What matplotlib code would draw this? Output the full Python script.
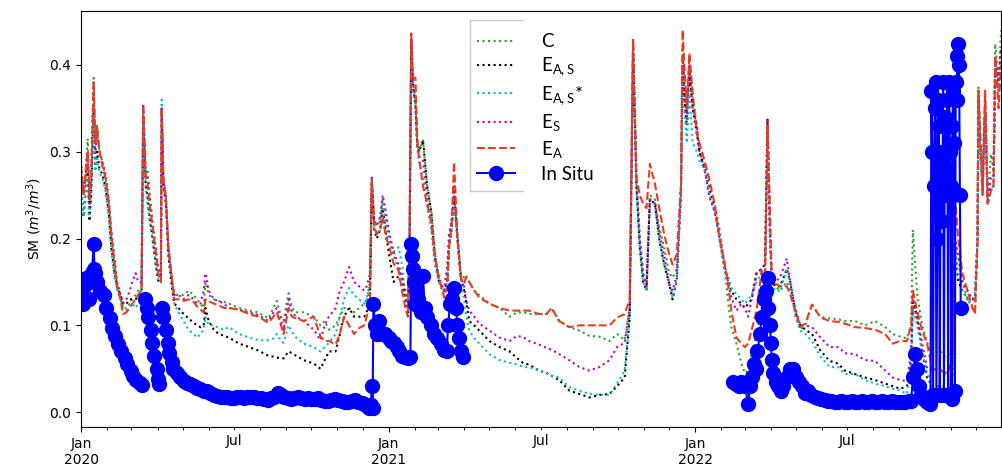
import numpy as np
import pandas as pd
import matplotlib
matplotlib.use("Agg")
import matplotlib.pyplot as plt
import matplotlib.dates as mdates
from matplotlib.lines import Line2D
from matplotlib.ticker import FuncFormatter

start = pd.Timestamp("2020-01-01")

# days since 2020-01-01 for the model series
model_day = [
    0, 3, 5, 8, 10, 12, 15, 17, 19, 22,
    25, 29, 33, 36, 40, 43, 47, 50, 54, 58,
    61, 65, 68, 72, 74, 77, 79, 81, 85, 89,
    92, 95, 96, 98, 101, 104, 108, 111, 116, 122,
    128, 134, 138, 142, 146, 148, 152, 158, 164, 170,
    176, 188, 200, 211, 223, 229, 233, 238, 241, 247,
    251, 256, 265, 277, 285, 290, 295, 303, 308, 313,
    319, 325, 331, 337, 340, 344, 346, 349, 352, 356,
    359, 363, 366, 372, 378, 382, 386, 389, 391, 393,
    395, 398, 400, 402, 407, 412, 417, 421, 426, 432,
    436, 438, 441, 444, 448, 452, 456, 458, 462, 468,
    474, 486, 498, 510, 519, 527, 533, 545, 554, 560,
    569, 581, 593, 605, 617, 629, 638, 647, 653, 657,
    661, 665, 669, 673, 677, 683, 688, 694, 700, 704,
    709, 714, 716, 718, 721, 724, 728, 733, 736, 742,
    748, 754, 760, 766, 770, 774, 780, 786, 790, 794,
    798, 804, 810, 814, 817, 820, 822, 826, 832, 840,
    844, 850, 856, 862, 870, 880, 891, 901, 909, 921,
    933, 945, 957, 966, 975, 983, 988, 990, 995, 1001,
    1007, 1013, 1022, 1031, 1037, 1040, 1044, 1049, 1055, 1061,
    1064, 1067, 1068, 1070, 1073, 1076, 1079, 1083, 1086, 1088,
    1092, 1095,
]

sm_c = [
    .29, .255, .27, .315, .245, .27, .385, .31, .33, .30,
    .29, .27, .245, .205, .17, .145, .13, .12, .118, .125,
    .13, .135, .14, .145, .35, .27, .28, .26, .22, .19,
    .16, .15, .35, .27, .25, .19, .155, .135, .135, .135,
    .14, .135, .13, .125, .12, .15, .135, .13, .128, .127,
    .125, .12, .117, .115, .108, .12, .128, .11, .105, .137,
    .12, .115, .115, .11, .10, .105, .095, .10, .11, .12,
    .12, .115, .12, .125, .13, .15, .27, .22, .215, .22,
    .245, .22, .205, .18, .165, .155, .135, .12, .20, .43,
    .38, .36, .31, .30, .313, .26, .23, .185, .15, .135,
    .15, .20, .22, .245, .205, .16, .155, .158, .15, .14,
    .135, .125, .12, .11, .115, .115, .113, .113, .113, .12,
    .105, .098, .094, .088, .087, .082, .09, .083, .12, .43,
    .27, .20, .16, .145, .25, .245, .213, .19, .16, .155,
    .165, .26, .42, .38, .34, .41, .36, .33, .30, .285,
    .26, .24, .21, .17, .128, .098, .079, .056, .045, .048,
    .067, .09, .12, .14, .33, .20, .15, .145, .14, .15,
    .14, .12, .095, .10, .124, .11, .108, .107, .105, .105,
    .10, .105, .098, .09, .087, .085, .10, .21, .137, .10,
    .08, .067, .071, .06, .07, .20, .18, .15, .13, .12,
    .12, .20, .375, .31, .27, .37, .25, .297, .28, .424,
    .38, .44,
]

sm_eas = [
    .26, .225, .25, .28, .22, .25, .35, .28, .30, .28,
    .275, .26, .23, .19, .16, .145, .135, .125, .125, .13,
    .13, .13, .135, .14, .34, .26, .25, .23, .20, .17,
    .15, .15, .35, .26, .24, .18, .145, .125, .12, .113,
    .108, .103, .10, .098, .10, .12, .105, .095, .09, .088,
    .086, .079, .075, .071, .065, .064, .063, .062, .062, .07,
    .068, .065, .06, .056, .05, .06, .07, .07, .09, .11,
    .12, .11, .11, .11, .115, .14, .265, .21, .20, .21,
    .235, .205, .185, .15, .157, .145, .13, .115, .19, .43,
    .375, .355, .31, .30, .313, .26, .23, .18, .15, .14,
    .15, .19, .21, .26, .20, .155, .14, .13, .105, .10,
    .094, .082, .075, .07, .062, .056, .055, .048, .045, .042,
    .037, .025, .021, .017, .02, .021, .03, .04, .11, .42,
    .26, .19, .15, .14, .245, .24, .20, .17, .148, .13,
    .152, .25, .40, .36, .33, .39, .35, .32, .30, .28,
    .255, .235, .20, .164, .155, .14, .13, .125, .12, .125,
    .13, .16, .165, .17, .338, .21, .155, .145, .145, .165,
    .15, .115, .10, .095, .09, .071, .059, .056, .048, .044,
    .04, .037, .033, .03, .027, .03, .06, .13, .11, .07,
    .04, .03, .03, .03, .04, .19, .15, .14, .13, .13,
    .135, .20, .36, .30, .26, .35, .24, .26, .26, .40,
    .37, .42,
]

sm_eas_star = [
    .26, .225, .25, .27, .225, .25, .34, .28, .295, .275,
    .27, .255, .225, .185, .155, .14, .13, .12, .12, .125,
    .125, .12, .125, .135, .34, .26, .24, .225, .20, .17,
    .15, .15, .36, .265, .245, .185, .15, .125, .115, .105,
    .095, .09, .086, .09, .095, .11, .10, .10, .097, .095,
    .098, .09, .086, .083, .083, .085, .09, .082, .08, .10,
    .093, .086, .079, .075, .07, .075, .08, .09, .11, .13,
    .143, .135, .13, .125, .13, .15, .26, .21, .205, .21,
    .24, .21, .195, .185, .19, .17, .135, .12, .20, .425,
    .37, .35, .305, .29, .27, .235, .21, .17, .15, .14,
    .15, .19, .21, .235, .20, .15, .13, .115, .094, .085,
    .079, .067, .06, .057, .055, .052, .052, .048, .045, .042,
    .04, .029, .025, .021, .02, .02, .033, .048, .11, .42,
    .26, .19, .15, .14, .24, .24, .20, .17, .148, .132,
    .152, .25, .39, .35, .31, .37, .31, .30, .29, .28,
    .25, .23, .20, .164, .157, .143, .136, .13, .125, .13,
    .135, .15, .16, .16, .33, .20, .15, .14, .14, .165,
    .15, .11, .094, .09, .082, .064, .052, .052, .044, .044,
    .037, .033, .03, .027, .025, .021, .06, .12, .10, .07,
    .045, .03, .03, .03, .04, .19, .16, .14, .13, .13,
    .136, .20, .36, .30, .25, .35, .24, .26, .26, .40,
    .37, .41,
]

sm_es = [
    .275, .25, .27, .30, .24, .27, .37, .30, .32, .30,
    .29, .275, .245, .21, .175, .15, .135, .125, .13, .14,
    .15, .16, .15, .15, .355, .27, .27, .25, .215, .185,
    .165, .155, .35, .27, .25, .19, .155, .135, .135, .13,
    .135, .13, .125, .125, .14, .16, .14, .13, .128, .125,
    .12, .118, .115, .112, .105, .115, .12, .105, .095, .13,
    .115, .11, .105, .095, .083, .10, .11, .12, .14, .15,
    .167, .15, .145, .14, .145, .16, .27, .22, .215, .225,
    .25, .23, .21, .185, .17, .155, .14, .125, .20, .43,
    .38, .36, .31, .295, .29, .245, .22, .18, .155, .14,
    .17, .205, .22, .25, .20, .155, .145, .13, .117, .11,
    .102, .094, .086, .082, .088, .086, .082, .078, .074, .072,
    .067, .06, .052, .048, .052, .06, .075, .08, .12, .425,
    .265, .20, .16, .145, .245, .24, .21, .18, .148, .14,
    .157, .26, .41, .37, .34, .40, .35, .33, .30, .28,
    .247, .232, .20, .17, .15, .132, .117, .125, .12, .11,
    .13, .16, .165, .17, .338, .20, .16, .15, .155, .177,
    .15, .12, .10, .10, .098, .086, .075, .075, .068, .067,
    .06, .059, .048, .04, .037, .036, .07, .13, .11, .08,
    .05, .048, .05, .04, .05, .20, .18, .15, .14, .13,
    .13, .20, .37, .31, .26, .36, .245, .27, .27, .41,
    .38, .42,
]

sm_ea = [
    .285, .25, .27, .30, .245, .27, .38, .31, .33, .30,
    .285, .27, .24, .205, .17, .145, .13, .113, .115, .12,
    .125, .13, .135, .14, .35, .27, .265, .245, .215, .185,
    .16, .15, .35, .265, .245, .19, .155, .13, .13, .128,
    .13, .127, .122, .118, .115, .13, .128, .125, .123, .12,
    .12, .118, .113, .11, .103, .11, .115, .10, .09, .12,
    .11, .108, .105, .11, .087, .082, .082, .078, .09, .11,
    .10, .09, .097, .10, .11, .13, .265, .215, .205, .21,
    .225, .20, .194, .171, .163, .14, .12, .11, .20, .436,
    .385, .385, .32, .295, .26, .24, .217, .18, .155, .132,
    .145, .19, .215, .288, .20, .155, .148, .155, .15, .14,
    .132, .125, .12, .117, .117, .117, .117, .113, .113, .12,
    .105, .098, .10, .10, .10, .10, .109, .113, .13, .43,
    .27, .25, .24, .235, .286, .263, .236, .205, .182, .17,
    .182, .26, .44, .40, .35, .413, .367, .32, .31, .29,
    .267, .24, .20, .171, .148, .117, .086, .079, .075, .079,
    .094, .117, .163, .15, .33, .23, .155, .148, .145, .145,
    .136, .117, .098, .102, .124, .109, .105, .104, .102, .098,
    .097, .095, .09, .079, .082, .082, .10, .14, .117, .094,
    .079, .05, .048, .045, .06, .25, .20, .16, .14, .12,
    .113, .20, .37, .33, .25, .37, .24, .255, .26, .41,
    .35, .40,
]

# station record, NaN where the probe has no data
insitu_day = [
    0, 2, 4, 6, 9, 11, 13, 15, 16, 17, 19, 23, 27, 30, 34, 37, 41, 44, 48,
    52, 55, 59, 62, 66, 70, 73,
    74,
    76, 78, 80, 83, 85, 87, 90, 92, 93,
    94,
    96, 98, 101, 103, 105, 108,
    110, 114, 118, 122, 126, 130, 134, 138, 142, 146,
    150, 154, 158, 162, 166, 170, 174, 178, 182, 186,
    190, 194, 198, 202, 206, 210, 214, 218, 222, 226,
    230, 234, 238, 242, 246, 250, 254, 258, 262, 266,
    270, 274, 278, 282, 286, 290, 294, 298, 302, 306,
    310, 314, 318, 322, 326, 330, 334, 337, 340, 343,
    345,
    346, 347, 348, 350, 352, 355, 358, 362, 366, 369,
    373, 376, 379, 382, 386, 389, 392, 393, 394, 395,
    396, 397, 399, 401, 403, 405, 407, 409, 412, 416,
    420, 424, 428, 432, 435, 437, 439, 441, 444, 446,
    448, 450, 452, 454,
    455,
    776, 779, 783, 786, 790, 794, 796, 798, 801, 803,
    805, 808, 810, 813, 815, 817, 818, 820, 821, 822,
    824, 827, 829, 833, 836,
    840, 844, 847, 851, 854, 858, 862, 865, 869, 873,
    877, 881, 885, 889, 893, 897, 901, 905, 909, 913,
    917, 921, 925, 929, 933, 937, 941, 945, 949, 953,
    957, 961, 965, 969, 973, 977, 981, 985, 988, 990,
    993, 995, 997, 1000, 1003, 1007, 1010,
    1011, 1012, 1013, 1014, 1015, 1016, 1017, 1018, 1019, 1020, 1021, 1022,
    1023, 1024, 1025, 1026, 1027, 1028, 1029, 1030, 1031, 1032, 1033, 1034,
    1035, 1036, 1037, 1038, 1039, 1040, 1041, 1042, 1043, 1044, 1045, 1046,
    1047,
]

insitu_sm = [
    .14, .125, .145, .155, .13, .15, .16, .194, .165, .16, .15, .14, .135,
    .12, .108, .097, .088, .079, .07, .062, .055, .048, .042, .037, .034, .031,
    np.nan,
    .13, .12, .11, .095, .08, .065, .05, .038, .033,
    np.nan,
    .12, .11, .095, .08, .068, .058,
    .05, .045, .04, .036, .034, .032, .03, .028, .027, .025,
    .024, .022, .02, .019, .018, .017, .017, .016, .016, .017,
    .018, .016, .017, .018, .017, .016, .016, .015, .014, .016,
    .018, .022, .02, .017, .016, .015, .016, .017, .016, .015,
    .016, .015, .015, .016, .014, .013, .013, .014, .015, .014,
    .013, .012, .012, .013, .014, .012, .011, .01, .007, .005,
    .008,
    .03, .005, .125, .10, .09, .105, .09, .09, .085, .082,
    .08, .075, .07, .065, .063, .062, .064, .194, .18, .165,
    .15, .125, .14, .13, .12, .115, .157, .12, .11, .10,
    .09, .085, .078, .072, .07, .10, .125, .13, .143, .12,
    .10, .085, .07, .063,
    np.nan,
    .035, .033, .03, .035, .03, .01, .03, .04, .055, .05,
    .07, .09, .11, .13, .14, .155, .12, .10, .08, .06,
    .045, .035, .03, .025, .03,
    .04, .05, .05, .04, .035, .03, .022, .025, .02, .017,
    .016, .015, .014, .013, .013, .012, .012, .013, .012, .012,
    .013, .012, .012, .013, .012, .012, .013, .012, .012, .013,
    .012, .012, .013, .012, .012, .012, .012, .013, .013, .04,
    .067, .05, .03, .02, .015, .012, .01,
    .015, .37, .30, .02, .26, .35, .38, .02, .20, .36, .33, .02, .30, .25,
    .22, .38, .02, .34, .28, .25, .36, .02, .38, .30, .26, .015, .33, .37,
    .31, .025, .38, .36, .41, .424, .40, .25, .12,
]


def to_dates(days):
    return start + pd.to_timedelta(days, unit="D")


fig = plt.figure(figsize=(10.03, 4.73), dpi=100)
ax = fig.add_axes([0.0808, 0.0973, 0.9173, 0.8795])

t = to_dates(model_day)
ax.plot(t, sm_c, ":", color="tab:green", lw=1.5, label="C")
ax.plot(t, sm_eas, ":", color="k", lw=1.5, label=r"$\mathregular{E_{A,S}}$")
ax.plot(t, sm_eas_star, ":", color="c", lw=1.5,
        label=r"$\mathregular{E_{A,S}}$*")
ax.plot(t, sm_es, ":", color="m", lw=1.5, label=r"$\mathregular{E_{S}}$")
ax.plot(t, sm_ea, "--", color="#ee3a1c", lw=1.5, label=r"$\mathregular{E_{A}}$")
ax.plot(to_dates(insitu_day), insitu_sm, "o-", color="b", ms=10, lw=1.5,
        label="In Situ")

ax.set_xlim(start, start + pd.Timedelta(days=1095))
ax.set_ylim(-0.017, 0.462)
ax.set_yticks([0.0, 0.1, 0.2, 0.3, 0.4])
ax.set_ylabel("SM ($m^3/m^3$)")

# years as major ticks, months as minor ticks with July labelled
ax.xaxis.set_major_locator(mdates.MonthLocator(bymonth=1))
ax.xaxis.set_major_formatter(mdates.DateFormatter("%b\n%Y"))
ax.xaxis.set_minor_locator(mdates.MonthLocator())
ax.xaxis.set_minor_formatter(
    FuncFormatter(lambda x, pos: "Jul" if mdates.num2date(x).month == 7 else ""))

leg = ax.legend(loc="upper left", bbox_to_anchor=(0.4163, 0.978),
                borderaxespad=0, prop={"family": "Lato", "size": 13.5},
                handlelength=2.0, handletextpad=1.4, labelspacing=0.3,
                borderpad=0.7, framealpha=1, edgecolor="none")

# legend border only drawn along the left part of the box
fig.canvas.draw()
bb = leg.get_frame().get_window_extent()
W, H = fig.bbox.width, fig.bbox.height
x0, x1 = (bb.x0 + 6) / W, (bb.x0 + 59) / W
y0, y1 = (bb.y0 + 5) / H, bb.y1 / H
for xs, ys in [([x0, x0], [y0, y1]), ([x0, x1], [y1, y1]), ([x0, x1], [y0, y0])]:
    fig.add_artist(Line2D(xs, ys, color="0.8", lw=1.0))

fig.savefig("out.png", dpi=100)
